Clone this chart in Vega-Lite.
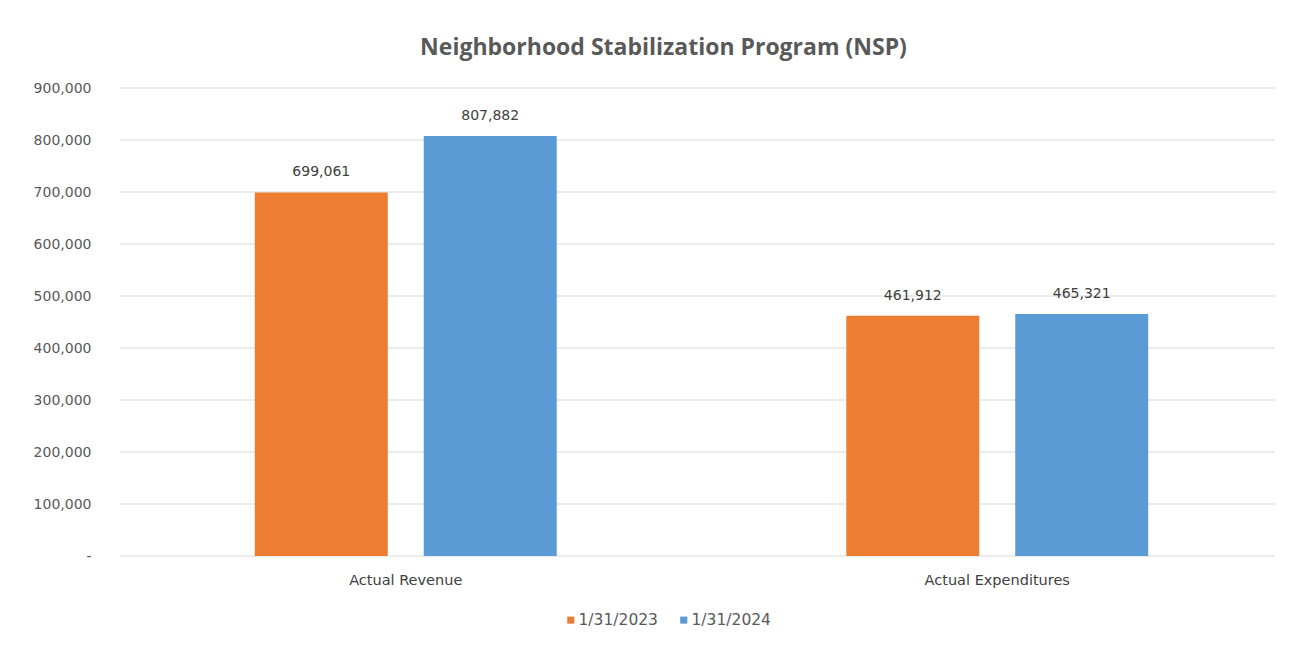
{
  "$schema": "https://vega.github.io/schema/vega-lite/v6.json",
  "autosize": "none",
  "width": 1155,
  "height": 468,
  "padding": {"left": 120, "top": 88, "right": 37, "bottom": 91},
  "background": "white",
  "config": {
    "font": "DejaVu Sans",
    "view": {"stroke": null}
  },
  "title": {
    "text": "Neighborhood Stabilization Program (NSP)",
    "fontSize": 23,
    "fontWeight": "bold",
    "color": "#595959",
    "font": "Open Sans",
    "anchor": "middle",
    "dx": -34,
    "offset": 21
  },
  "layer": [
    {
      "data": {
        "values": [
          {"tick": 0}, {"tick": 100000}, {"tick": 200000}, {"tick": 300000}, {"tick": 400000},
          {"tick": 500000}, {"tick": 600000}, {"tick": 700000}, {"tick": 800000}, {"tick": 900000}
        ]
      },
      "mark": {"type": "rule", "color": "#d9d9d9", "strokeWidth": 1},
      "encoding": {
        "y": {"field": "tick", "type": "quantitative"}
      }
    },
    {
      "data": {
        "values": [
          {"category": "Actual Revenue", "date": "1/31/2023", "amount": 699061},
          {"category": "Actual Revenue", "date": "1/31/2024", "amount": 807882},
          {"category": "Actual Expenditures", "date": "1/31/2023", "amount": 461912},
          {"category": "Actual Expenditures", "date": "1/31/2024", "amount": 465321}
        ]
      },
      "encoding": {
        "x": {
          "field": "category",
          "type": "nominal",
          "sort": ["Actual Revenue", "Actual Expenditures"],
          "scale": {"paddingInner": 0, "paddingOuter": 0, "range": [-10, 1173]},
          "axis": {
            "title": null,
            "labelAngle": 0,
            "ticks": false,
            "domain": false,
            "grid": false,
            "labelPadding": 17,
            "labelFontSize": 14.5,
            "labelColor": "#404040"
          }
        },
        "xOffset": {
          "field": "date",
          "type": "nominal",
          "scale": {"paddingInner": 0.213, "paddingOuter": 0.857}
        },
        "y": {
          "field": "amount",
          "type": "quantitative",
          "scale": {"domain": [0, 900000]},
          "axis": {
            "title": null,
            "values": [0, 100000, 200000, 300000, 400000, 500000, 600000, 700000, 800000, 900000],
            "labelExpr": "datum.value == 0 ? '-' : format(datum.value, ',')",
            "domain": false,
            "ticks": false,
            "grid": false,
            "labelPadding": 29,
            "labelFontSize": 14,
            "labelColor": "#595959"
          }
        }
      },
      "layer": [
        {
          "mark": {"type": "bar"},
          "encoding": {
            "color": {
              "field": "date",
              "type": "nominal",
              "scale": {"domain": ["1/31/2023", "1/31/2024"], "range": ["#ED7D31", "#5B9BD5"]},
              "legend": {
                "title": null,
                "orient": "none",
                "direction": "horizontal",
                "legendX": 443,
                "legendY": 524,
                "symbolType": "square",
                "symbolSize": 50,
                "labelFontSize": 15.5,
                "labelColor": "#595959",
                "labelOffset": 0,
                "columnPadding": 18
              }
            }
          }
        },
        {
          "mark": {"type": "text", "baseline": "bottom", "dy": -13, "fontSize": 14, "color": "#404040"},
          "encoding": {
            "text": {"field": "amount", "type": "quantitative", "format": ","}
          }
        }
      ]
    }
  ]
}
